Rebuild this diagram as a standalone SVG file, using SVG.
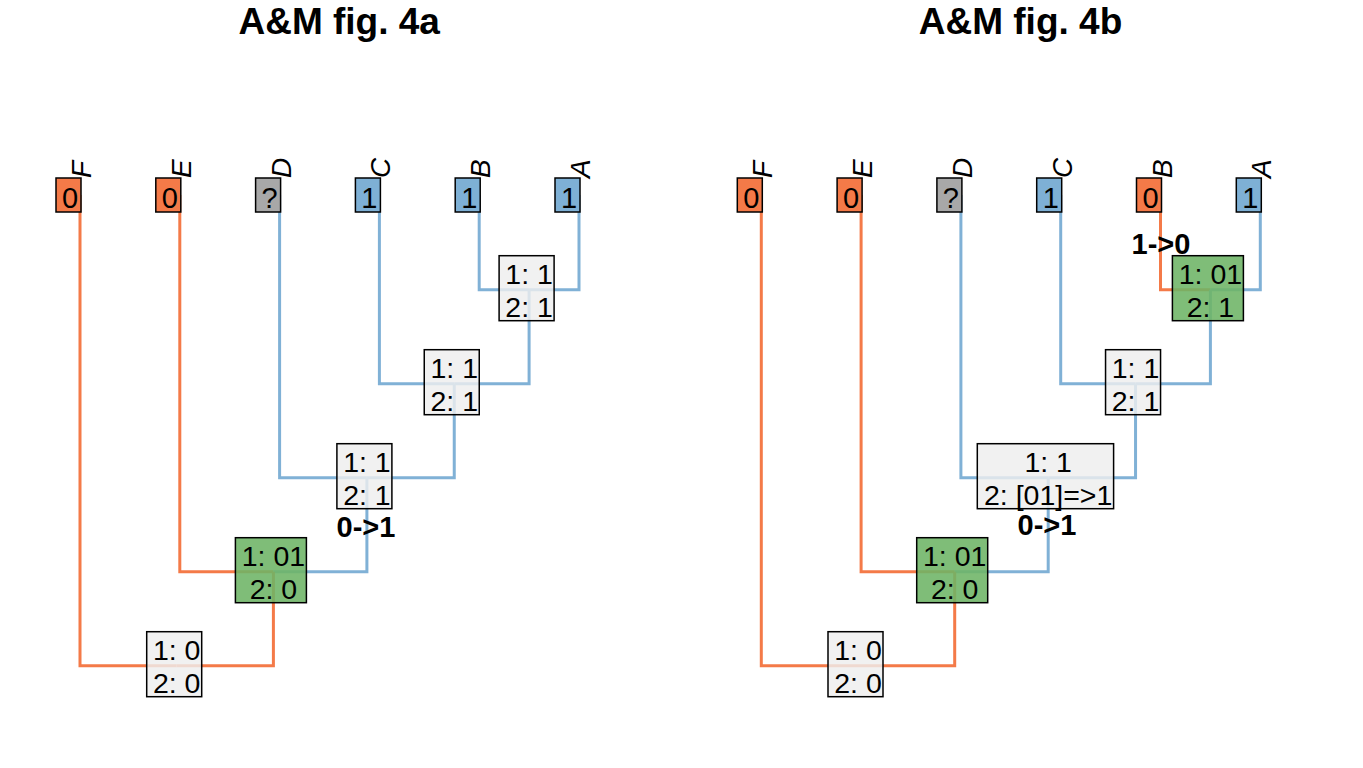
<svg xmlns="http://www.w3.org/2000/svg" width="1363" height="768" viewBox="0 0 1363 768">
<style>
text{font-family:"Liberation Sans",Arial,sans-serif;fill:#000}
.title{font-size:37px;font-weight:bold;text-anchor:middle}
.e{fill:none;stroke-width:3;stroke-linejoin:miter;stroke-linecap:butt}
.o{stroke:#F47A48}
.b{stroke:#80B1D6}
.tb{stroke:#000;stroke-width:1.5}
.to{fill:#F47A48}
.tbl{fill:#7EB0D5}
.tg{fill:#A8A8A8}
.tip{font-size:29px;text-anchor:middle}
.tl{font-size:28px;font-style:italic}
.nb{stroke:#000;stroke-width:1.5;fill:#EEEEEE;fill-opacity:0.82}
.ng{stroke:#000;stroke-width:1.5;fill:#6DB465;fill-opacity:0.88}
.nt{font-size:28.5px;text-anchor:middle}
.ch{font-size:29px;font-weight:bold;text-anchor:middle}
</style>
<text class="title" x="339.2" y="34">A&amp;M fig. 4a</text>
<text class="title" x="1020.5" y="34">A&amp;M fig. 4b</text>
<g id="connectors">
<path class="e o" d="M80 195V665.7H176.7"/>
<path class="e o" d="M179.8 195V571.7H273.4"/>
<path class="e b" d="M279.6 195V477.7H366.9"/>
<path class="e b" d="M379.4 195V383.7H454.25"/>
<path class="e b" d="M479.2 195V289.7H529.1"/>
<path class="e b" d="M579 195V289.7H529.1"/>
<path class="e b" d="M529.1 289.7V383.7H454.25"/>
<path class="e b" d="M454.25 383.7V477.7H366.9"/>
<path class="e b" d="M366.9 477.7V571.7H273.4"/>
<path class="e o" d="M273.4 571.7V665.7H176.7"/>
<path class="e o" d="M761.3 195V665.7H858"/>
<path class="e o" d="M861.1 195V571.7H954.7"/>
<path class="e b" d="M960.9 195V477.7H1048.2"/>
<path class="e b" d="M1060.7 195V383.7H1135.55"/>
<path class="e o" d="M1160.5 195V289.7H1210.4"/>
<path class="e b" d="M1260.3 195V289.7H1210.4"/>
<path class="e b" d="M1210.4 289.7V383.7H1135.55"/>
<path class="e b" d="M1135.55 383.7V477.7H1048.2"/>
<path class="e b" d="M1048.2 477.7V571.7H954.7"/>
<path class="e o" d="M954.7 571.7V665.7H858"/>
</g>
<g id="tipF-a"><rect class="tb to" x="56" y="178" width="25" height="34"/><text class="tip" x="70" y="208">0</text><text class="tl" transform="translate(91 178) rotate(-90)">F</text></g>
<g id="tipE-a"><rect class="tb to" x="155.8" y="178" width="25" height="34"/><text class="tip" x="169.8" y="208">0</text><text class="tl" transform="translate(190.8 178) rotate(-90)">E</text></g>
<g id="tipD-a"><rect class="tb tg" x="255.6" y="178" width="25" height="34"/><text class="tip" x="269.6" y="208">?</text><text class="tl" transform="translate(290.6 178) rotate(-90)">D</text></g>
<g id="tipC-a"><rect class="tb tbl" x="355.4" y="178" width="25" height="34"/><text class="tip" x="369.4" y="208">1</text><text class="tl" transform="translate(390.4 178) rotate(-90)">C</text></g>
<g id="tipB-a"><rect class="tb tbl" x="455.2" y="178" width="25" height="34"/><text class="tip" x="469.2" y="208">1</text><text class="tl" transform="translate(490.2 178) rotate(-90)">B</text></g>
<g id="tipA-a"><rect class="tb tbl" x="555" y="178" width="25" height="34"/><text class="tip" x="569" y="208">1</text><text class="tl" transform="translate(590 178) rotate(-90)">A</text></g>
<g id="nodeAB-a"><rect class="nb" x="499.1" y="255.7" width="55" height="65"/><text class="nt" x="529.1" y="283.7">1: 1</text><text class="nt" x="529.1" y="316.7">2: 1</text></g>
<g id="nodeABC-a"><rect class="nb" x="424.25" y="349.7" width="55" height="65"/><text class="nt" x="454.25" y="377.7">1: 1</text><text class="nt" x="454.25" y="410.7">2: 1</text></g>
<g id="nodeABCD-a"><rect class="nb" x="336.9" y="443.7" width="55" height="65"/><text class="nt" x="366.9" y="471.7">1: 1</text><text class="nt" x="366.9" y="504.7">2: 1</text><text class="ch" x="366" y="537">0-&gt;1</text></g>
<g id="nodeABCDE-a"><rect class="ng" x="235.4" y="537.7" width="71" height="65"/><text class="nt" x="273.4" y="565.7">1: 01</text><text class="nt" x="273.4" y="598.7">2: 0</text></g>
<g id="root-a"><rect class="nb" x="146.7" y="631.7" width="55" height="65"/><text class="nt" x="176.7" y="659.7">1: 0</text><text class="nt" x="176.7" y="692.7">2: 0</text></g>
<g id="tipF-b"><rect class="tb to" x="737.3" y="178" width="25" height="34"/><text class="tip" x="751.3" y="208">0</text><text class="tl" transform="translate(772.3 178) rotate(-90)">F</text></g>
<g id="tipE-b"><rect class="tb to" x="837.1" y="178" width="25" height="34"/><text class="tip" x="851.1" y="208">0</text><text class="tl" transform="translate(872.1 178) rotate(-90)">E</text></g>
<g id="tipD-b"><rect class="tb tg" x="936.9" y="178" width="25" height="34"/><text class="tip" x="950.9" y="208">?</text><text class="tl" transform="translate(971.9 178) rotate(-90)">D</text></g>
<g id="tipC-b"><rect class="tb tbl" x="1036.7" y="178" width="25" height="34"/><text class="tip" x="1050.7" y="208">1</text><text class="tl" transform="translate(1071.7 178) rotate(-90)">C</text></g>
<g id="tipB-b"><rect class="tb to" x="1136.5" y="178" width="25" height="34"/><text class="tip" x="1150.5" y="208">0</text><text class="tl" transform="translate(1171.5 178) rotate(-90)">B</text></g>
<g id="tipA-b"><rect class="tb tbl" x="1236.3" y="178" width="25" height="34"/><text class="tip" x="1250.3" y="208">1</text><text class="tl" transform="translate(1271.3 178) rotate(-90)">A</text></g>
<g id="nodeAB-b"><rect class="ng" x="1172.4" y="255.7" width="71" height="65"/><text class="nt" x="1210.4" y="283.7">1: 01</text><text class="nt" x="1210.4" y="316.7">2: 1</text><text class="ch" x="1161" y="254">1-&gt;0</text></g>
<g id="nodeABC-b"><rect class="nb" x="1105.55" y="349.7" width="55" height="65"/><text class="nt" x="1135.55" y="377.7">1: 1</text><text class="nt" x="1135.55" y="410.7">2: 1</text></g>
<g id="nodeABCD-b"><rect class="nb" x="977.3" y="443.7" width="136.3" height="65"/><text class="nt" x="1048.2" y="471.7">1: 1</text><text class="nt" x="1048.2" y="504.7">2: [01]=&gt;1</text><text class="ch" x="1047" y="535">0-&gt;1</text></g>
<g id="nodeABCDE-b"><rect class="ng" x="916.7" y="537.7" width="71" height="65"/><text class="nt" x="954.7" y="565.7">1: 01</text><text class="nt" x="954.7" y="598.7">2: 0</text></g>
<g id="root-b"><rect class="nb" x="828" y="631.7" width="55" height="65"/><text class="nt" x="858" y="659.7">1: 0</text><text class="nt" x="858" y="692.7">2: 0</text></g>
</svg>
